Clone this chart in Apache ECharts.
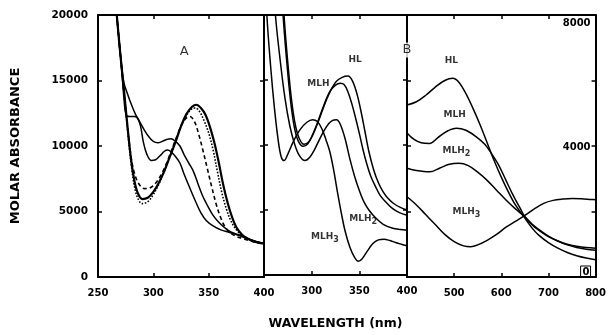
<!DOCTYPE html>
<html>
<head>
<meta charset="utf-8">
<script src="https://cdn.jsdelivr.net/npm/echarts@6/dist/echarts.min.js"></script>
<style>
  html, body { margin: 0; padding: 0; background: #fff; }
  #chart { width: 609px; height: 335px; }
</style>
</head>
<body>
<div id="chart"></div>
<script>
// ---- Panel A: spectra in the 250–400 nm region, [wavelength nm, molar absorbance] ----
const aThick = [[265,22000],[268,19000],[271,16300],[274,13800],[277,11200],[280,8900],[283,7300],[286,6400],[290,5950],[295,6050],[300,6500],[305,7200],[310,8100],[315,9200],[320,10300],[325,11500],[330,12450],[335,13000],[339,13150],[343,12900],[347,12400],[351,11500],[355,10300],[359,8800],[363,7100],[367,5700],[371,4600],[375,3800],[380,3250],[385,2950],[390,2750],[395,2620],[400,2550]];
const aDotted = [[265,22000],[268,19000],[271,16300],[274,13700],[277,11000],[280,8600],[283,6900],[286,6000],[290,5600],[295,5750],[300,6300],[305,7100],[310,8100],[315,9200],[320,10400],[325,11500],[330,12350],[335,12850],[338,12900],[342,12600],[346,11900],[350,11000],[354,9700],[358,8000],[362,6400],[366,5200],[370,4300],[375,3600],[380,3200],[385,2950],[390,2750],[395,2620],[400,2550]];
const aDashed = [[265,22000],[268,19000],[271,16200],[274,13600],[277,11200],[280,9100],[283,7900],[287,7100],[292,6750],[297,6800],[302,7150],[307,7800],[312,8700],[317,9800],[322,10900],[326,11700],[330,12150],[333,12250],[337,11900],[341,10900],[345,9600],[349,8200],[353,6800],[357,5500],[361,4500],[365,3800],[370,3350],[375,3100],[380,2950],[390,2700],[400,2550]];
const aUpperDip = [[265,22000],[268,19000],[271,16400],[273.5,14800],[277,13900],[280,13200],[284,12400],[288,11800],[292,11200],[296,10700],[300,10350],[304,10250],[308,10350],[312,10500],[316,10550],[320,10350],[324,10000],[328,9300],[332,8700],[336,8100],[340,7200],[344,6300],[348,5600],[354,4700],[360,4100],[367,3600],[374,3300],[380,3150],[388,2850],[400,2550]];
const aShoulder = [[265,22000],[268,19000],[271,16300],[273.5,13600],[275.5,12350],[279,12250],[283,12250],[286,12100],[288.5,11500],[291,10300],[294,9400],[298,8900],[302,8950],[306,9250],[310,9600],[313,9700],[316,9550],[320,9200],[324,8700],[328,7800],[333,6800],[338,5800],[343,4900],[348,4300],[354,3900],[361,3600],[369,3400],[378,3150],[388,2800],[400,2550]];

// ---- Panel B: complex species, 250–400 nm ----
const bHL = [[268,24000],[271,20000],[275,16300],[279,13400],[283,11500],[287,10500],[292,10050],[297,10250],[302,10900],[308,12000],[314,13200],[320,14200],[326,14900],[332,15200],[338,15300],[343,14900],[348,13800],[352,12500],[356,11000],[360,9500],[365,8100],[370,7100],[375,6400],[380,5900],[386,5500],[393,5200],[400,5000]];
const bMLH = [[267,24000],[270,20000],[274,16300],[278,13300],[282,11300],[286,10300],[291,9900],[296,10100],[301,10800],[307,11900],[313,13100],[319,14100],[325,14600],[330,14750],[334,14650],[338,14100],[342,13200],[346,12100],[350,10900],[354,9600],[358,8500],[362,7600],[367,6800],[372,6100],[378,5600],[385,5100],[392,4800],[400,4600]];
const bMLH2 = [[259,24000],[262,20000],[267,16500],[272,13600],[277,11500],[282,10100],[287,9200],[293,8800],[298,9050],[303,9650],[308,10400],[313,11100],[318,11650],[322,11900],[326,11950],[330,11600],[335,10500],[340,8950],[345,7600],[350,6500],[355,5600],[360,5000],[367,4400],[375,3900],[385,3600],[393,3500],[400,3450]];
const bMLH3 = [[251,24000],[253,20000],[257,16000],[261,12800],[265,10300],[268,9100],[271,8800],[275,9300],[281,10300],[288,11200],[295,11750],[301,11950],[306,11800],[311,11200],[315,10400],[319,9500],[323,8100],[327,6400],[331,4800],[335,3400],[340,2150],[345,1350],[349,1050],[353,1250],[358,1800],[364,2400],[370,2700],[376,2750],[382,2650],[388,2500],[394,2370],[400,2250]];

// ---- Panel C: same species, 400–800 nm (right-hand scale) ----
const cHL = [[400,5250],[420,5350],[440,5550],[460,5800],[480,6000],[497,6070],[510,5950],[525,5600],[540,5150],[555,4650],[570,4100],[585,3550],[600,3050],[615,2600],[630,2200],[648,1840],[665,1500],[680,1270],[700,1050],[720,880],[740,750],[760,650],[780,580],[800,530]];
const cMLH = [[400,4400],[415,4200],[430,4100],[448,4080],[465,4250],[485,4450],[505,4540],[525,4480],[545,4300],[565,4050],[580,3750],[595,3400],[610,2950],[625,2500],[640,2100],[650,1840],[665,1600],[680,1420],[700,1230],[720,1100],[740,1000],[760,940],[780,900],[800,880]];
const cMLH2 = [[400,3320],[420,3250],[448,3210],[470,3330],[490,3440],[510,3470],[530,3400],[550,3200],[570,2950],[590,2650],[610,2350],[630,2080],[650,1840],[665,1620],[680,1450],[700,1250],[720,1100],[740,980],[760,900],[780,850],[800,820]];
const cMLH3 = [[400,2450],[420,2200],[440,1900],[460,1600],[480,1300],[500,1080],[520,950],[535,925],[550,980],[570,1120],[590,1300],[610,1520],[630,1700],[650,1880],[670,2080],[690,2250],[710,2340],[730,2380],[750,2400],[770,2390],[790,2370],[800,2360]];

// ---- In-plot annotations: [text, wavelength, absorbance] ----
const notesA = [['A', 328, 17200]];
const notesB = [['HL', 345.5, 16570], ['MLH', 307, 14700], ['MLH2', 354, 4350], ['MLH3', 314, 2980]];
const notesC = [['HL', 494, 6620], ['MLH', 501, 4950], ['MLH2', 505, 3850], ['MLH3', 526, 1990]];
const panelTagC = [['B', 400, 6930]];

const FONT = 'DejaVu Sans';
const black = '#000';

function frameAxis(extra) {
  return Object.assign({
    type: 'value',
    axisLine: { show: true, onZero: false, lineStyle: { color: black, width: 2 } },
    axisTick: { show: true, inside: true, length: 4, lineStyle: { color: black, width: 1.5 } },
    axisLabel: { show: false },
    splitLine: { show: false }
  }, extra);
}
const tickLabel = { show: true, color: black, fontFamily: FONT, fontWeight: 'bold', fontSize: 10,
                    formatter: v => String(v) };

// Rich-text label with subscript digits (MLH2 -> MLH₂)
function labelText(s) {
  const m = s.match(/^(.*?)(\d)$/);
  return m ? '{b|' + m[1] + '}{s|' + m[2] + '}' : '{b|' + s + '}';
}
const noteRich = {
  b: { fontFamily: FONT, fontWeight: 'bold', fontSize: 9, color: black },
  s: { fontFamily: FONT, fontWeight: 'bold', fontSize: 8, color: black, padding: [7, 0, 0, 0] },
  big: { fontFamily: FONT, fontSize: 13, color: black }
};

function curve(data, xi, yi, style) {
  return {
    type: 'line', data: data, xAxisIndex: xi, yAxisIndex: yi,
    showSymbol: false, smooth: 0.35, clip: true, silent: true,
    lineStyle: Object.assign({ color: black, width: 1.5 }, style || {})
  };
}
function notes(list, xi, yi, big, bg) {
  return {
    type: 'scatter', xAxisIndex: xi, yAxisIndex: yi, symbolSize: 0, silent: true, z: 10,
    data: list.map(n => ({ name: n[0], value: [n[1], n[2]] })),
    label: {
      show: true, position: 'inside', color: black,
      formatter: p => big ? '{big|' + p.name + '}' : labelText(p.name),
      rich: noteRich,
      backgroundColor: bg || 'transparent', padding: bg ? [1, 1] : 0
    }
  };
}

const chart = echarts.init(document.getElementById('chart'), null, { renderer: 'canvas' });
chart.setOption({
  animation: false,
  backgroundColor: '#fff',
  grid: [
    { left: 98, top: 15, width: 166, height: 262 },
    { left: 264, top: 15, width: 143, height: 262 },
    { left: 407, top: 15, width: 190, height: 262 }
  ],
  xAxis: [
    frameAxis({ gridIndex: 0, min: 250, max: 400, interval: 50, position: 'bottom',
      axisLabel: Object.assign({}, tickLabel, { margin: 11 }) }),
    frameAxis({ gridIndex: 0, min: 250, max: 400, interval: 50, position: 'top' }),
    frameAxis({ gridIndex: 1, min: 250, max: 400, interval: 50, position: 'bottom',
      axisLabel: Object.assign({}, tickLabel, { margin: 11, showMinLabel: false }),
      name: 'WAVELENGTH (nm)', nameLocation: 'middle', nameGap: 42,
      nameTextStyle: { color: black, fontFamily: FONT, fontWeight: 'bold', fontSize: 12.5 } }),
    frameAxis({ gridIndex: 1, min: 250, max: 400, interval: 50, position: 'top' }),
    frameAxis({ gridIndex: 2, min: 400, max: 800, interval: 100, position: 'bottom',
      axisLabel: Object.assign({}, tickLabel, { margin: 11, showMinLabel: false }) }),
    frameAxis({ gridIndex: 2, min: 400, max: 800, interval: 100, position: 'top' })
  ],
  yAxis: [
    frameAxis({ gridIndex: 0, min: 0, max: 20000, interval: 5000, position: 'left',
      axisLabel: Object.assign({}, tickLabel, { margin: 10, fontSize: 10.5 }),
      name: 'MOLAR ABSORBANCE', nameLocation: 'middle', nameGap: 76,
      nameTextStyle: { color: black, fontFamily: FONT, fontWeight: 'bold', fontSize: 13 } }),
    frameAxis({ gridIndex: 0, min: 0, max: 20000, interval: 5000, position: 'right' }),
    frameAxis({ gridIndex: 1, min: 0, max: 20000, interval: 5000, position: 'left' }),
    frameAxis({ gridIndex: 1, min: 0, max: 20000, interval: 5000, position: 'right' }),
    frameAxis({ gridIndex: 2, min: 0, max: 8000, interval: 2000, position: 'right',
      axisLabel: Object.assign({}, tickLabel, {
        inside: true, margin: 5,
        verticalAlignMaxLabel: 'top', verticalAlignMinLabel: 'bottom',
        formatter: v => v === 8000 ? '{n|8000}' : v === 4000 ? '{n|4000}' : v === 0 ? '{box|0}' : '',
        rich: {
          n: { fontFamily: FONT, fontWeight: 'bold', fontSize: 10, color: black, padding: [3, 0, 0, 0] },
          box: { fontFamily: FONT, fontWeight: 'bold', fontSize: 10, color: black,
                 borderColor: black, borderWidth: 1, padding: [1, 1, 0, 2] }
        }
      }) }),
    frameAxis({ gridIndex: 2, min: 0, max: 8000, interval: 2000, position: 'left' })
  ],
  series: [
    curve(aThick, 0, 0, { width: 2.2 }),
    curve(aDotted, 0, 0, { type: 'dotted', width: 1.6 }),
    curve(aDashed, 0, 0, { type: [4, 3], width: 1.6 }),
    curve(aUpperDip, 0, 0),
    curve(aShoulder, 0, 0),
    curve(bHL, 2, 2),
    curve(bMLH, 2, 2),
    curve(bMLH2, 2, 2),
    curve(bMLH3, 2, 2),
    curve(cHL, 4, 4),
    curve(cMLH, 4, 4),
    curve(cMLH2, 4, 4),
    curve(cMLH3, 4, 4),
    notes(notesA, 0, 0, true),
    notes(notesB, 2, 2),
    notes(notesC, 4, 4),
    notes(panelTagC, 4, 4, true, '#fff')
  ]
});
</script>
</body>
</html>
